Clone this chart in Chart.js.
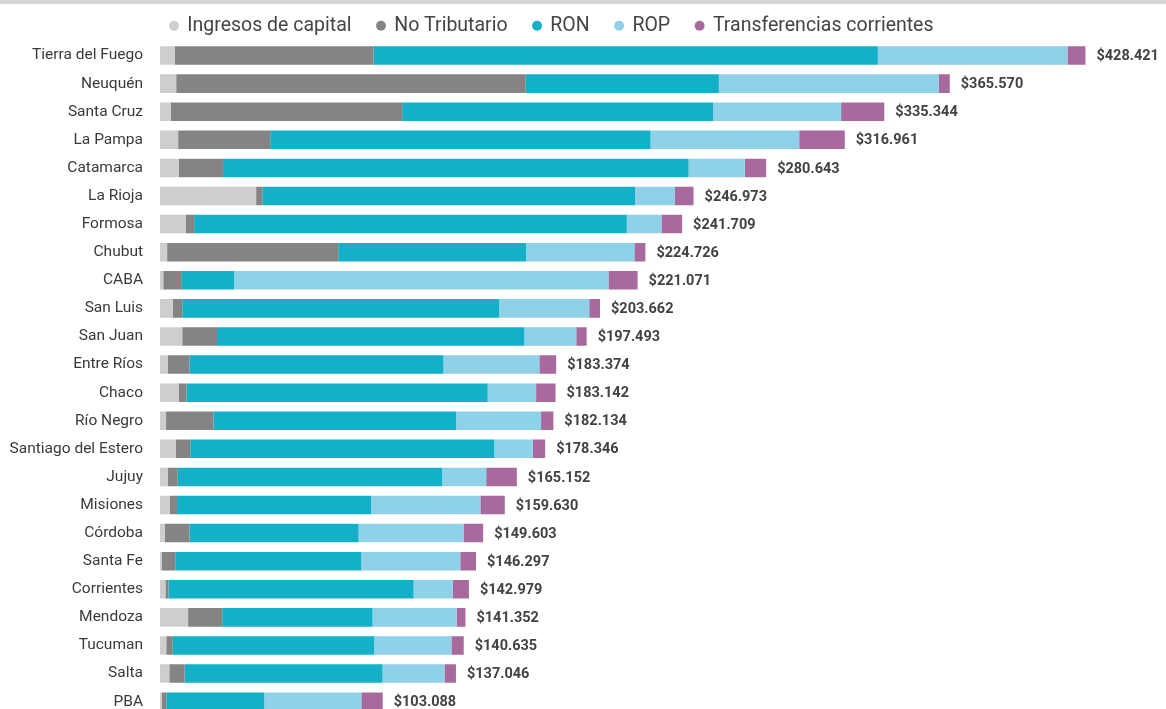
<!DOCTYPE html>
<html>
<head>
<meta charset="utf-8">
<script src="https://cdn.jsdelivr.net/npm/chart.js@4.4.1/dist/chart.umd.min.js"></script>
<style>
    html, body { margin: 0; padding: 0; background: #fff; overflow: hidden; }
    .band { position: absolute; top: 0; left: 0; width: 1166px; height: 4px; background: #d4d4d4; }
    canvas { display: block; }
</style>
</head>
<body>
<canvas id="recursosChart" width="1166" height="742"></canvas>
<div class="band"></div>
<script>
const provincias = ['Tierra del Fuego', 'Neuquén', 'Santa Cruz', 'La Pampa', 'Catamarca', 'La Rioja',
    'Formosa', 'Chubut', 'CABA', 'San Luis', 'San Juan', 'Entre Ríos', 'Chaco', 'Río Negro',
    'Santiago del Estero', 'Jujuy', 'Misiones', 'Córdoba', 'Santa Fe', 'Corrientes', 'Mendoza',
    'Tucuman', 'Salta', 'PBA'];

const ingresosCapital = [6.8, 7.5, 5.1, 8.4, 8.8, 44.5, 12.0, 3.3, 1.5, 6.0, 10.3, 3.5,
    8.6, 2.8, 7.4, 3.5, 4.6, 2.3, 0.9, 2.5, 13.0, 2.9, 4.3, 0.9];
const noTributario = [92.0, 161.8, 107.0, 42.6, 20.4, 2.9, 3.8, 79.2, 8.6, 4.3, 16.1, 10.1,
    3.7, 21.9, 6.6, 4.7, 3.3, 11.3, 6.2, 1.4, 15.8, 3.0, 7.1, 2.0];
const ron = [233.5, 89.4, 143.9, 176.1, 215.5, 172.5, 200.3, 87.0, 24.2, 146.7, 142.3, 117.6,
    139.4, 112.4, 140.8, 122.4, 89.8, 78.3, 86.1, 113.5, 69.6, 93.3, 91.6, 45.4];
const rop = [87.8, 101.9, 59.3, 68.8, 26.0, 18.5, 16.0, 50.1, 173.3, 41.7, 24.0, 44.4,
    22.4, 39.3, 17.8, 20.4, 50.6, 48.6, 45.8, 18.2, 38.9, 35.7, 28.7, 44.9];
const transferencias = [8.3, 5.0, 20.0, 21.1, 9.9, 8.6, 9.6, 5.1, 13.5, 5.0, 4.8, 7.8,
    9.0, 5.7, 5.7, 14.2, 11.3, 9.1, 7.3, 7.4, 4.1, 5.7, 5.3, 9.9];
const totales = [428.421, 365.570, 335.344, 316.961, 280.643, 246.973, 241.709, 224.726,
    221.071, 203.662, 197.493, 183.374, 183.142, 182.134, 178.346, 165.152, 159.630,
    149.603, 146.297, 142.979, 141.352, 140.635, 137.046, 103.088];

const fontFamily = 'Roboto, "Open Sans", sans-serif';

// etiqueta con el total al final de cada barra
const totalLabels = {
    id: 'totalLabels',
    afterDatasetsDraw(chart) {
        const ctx = chart.ctx;
        const last = chart.getDatasetMeta(chart.data.datasets.length - 1);
        ctx.save();
        ctx.font = `bold 14.5px ${fontFamily}`;
        ctx.fillStyle = '#424242';
        ctx.textAlign = 'left';
        ctx.textBaseline = 'middle';
        last.data.forEach((bar, i) => {
            ctx.fillText('$' + totales[i].toFixed(3), bar.x + 11, bar.y + 1);
        });
        ctx.restore();
    }
};

const ctx = document.getElementById('recursosChart').getContext('2d');
new Chart(ctx, {
    type: 'bar',
    data: {
        labels: provincias,
        datasets: [
            { label: 'Ingresos de capital', data: ingresosCapital, backgroundColor: '#cfcecc' },
            { label: 'No Tributario', data: noTributario, backgroundColor: '#848484' },
            { label: 'RON', data: ron, backgroundColor: '#13b0c7' },
            { label: 'ROP', data: rop, backgroundColor: '#8fd1e8' },
            { label: 'Transferencias corrientes', data: transferencias, backgroundColor: '#a86a9c' }
        ]
    },
    options: {
        indexAxis: 'y',
        responsive: false,
        animation: false,
        datasets: {
            bar: { categoryPercentage: 1, barPercentage: 0.66, borderWidth: 0 }
        },
        layout: { padding: { top: -10, right: 62, bottom: 5, left: 0 } },
        scales: {
            x: { stacked: true, display: false, min: 0, max: 437 },
            y: {
                stacked: true,
                grid: { display: false, drawTicks: false },
                border: { display: false },
                ticks: {
                    padding: 17,
                    color: '#3a3a3a',
                    font: { family: fontFamily, size: 15.5 }
                },
                afterFit(scale) { scale.width = 160; }
            }
        },
        plugins: {
            tooltip: { enabled: false },
            legend: {
                position: 'top',
                maxHeight: 51.5,
                labels: {
                    usePointStyle: true,
                    pointStyle: 'circle',
                    boxWidth: 7,
                    boxHeight: 7,
                    padding: 26,
                    color: '#444',
                    font: { family: fontFamily, size: 19.5 }
                }
            }
        }
    },
    plugins: [totalLabels]
});
</script>
</body>
</html>
